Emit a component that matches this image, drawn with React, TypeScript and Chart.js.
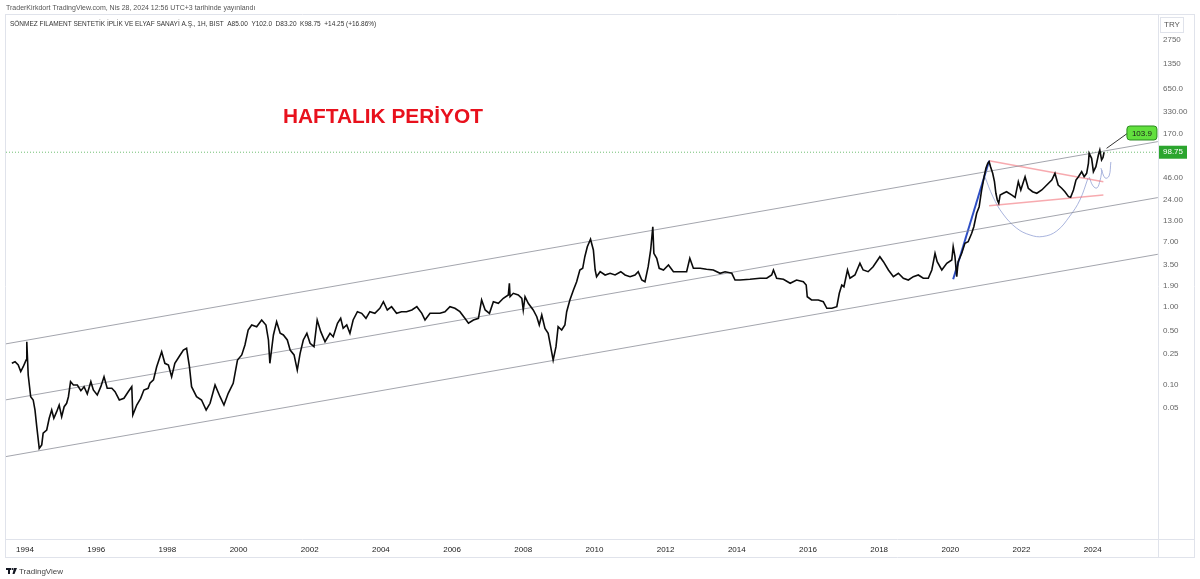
import React, { useEffect, useRef } from "react";
import { Chart, registerables } from "chart.js";
Chart.register(...registerables);

// ---------- DATA ----------
const weekYears: number[] = [
  1993.63, 1993.72, 1993.81, 1993.88, 1993.95, 1994.03, 1994.05, 1994.09, 1994.16, 1994.23,
  1994.28, 1994.33, 1994.40, 1994.47, 1994.51, 1994.61, 1994.68, 1994.75, 1994.81, 1994.89,
  1994.96, 1995.03, 1995.10, 1995.17, 1995.22, 1995.28, 1995.36, 1995.47, 1995.57, 1995.66,
  1995.75, 1995.85, 1995.92, 1996.03, 1996.13, 1996.22, 1996.31, 1996.44, 1996.53, 1996.65,
  1996.78, 1996.90, 1997.00, 1997.03, 1997.14, 1997.25, 1997.34, 1997.46,
  1997.51, 1997.61, 1997.70, 1997.84, 1997.93, 1998.03, 1998.12, 1998.21, 1998.36, 1998.45,
  1998.54, 1998.62, 1998.68, 1998.82, 1998.96, 1999.09, 1999.20, 1999.34, 1999.48, 1999.59,
  1999.71, 1999.85, 1999.97, 2000.09, 2000.18, 2000.27, 2000.37, 2000.51, 2000.65, 2000.77,
  2000.84, 2000.88, 2000.98, 2001.07, 2001.17, 2001.26, 2001.37, 2001.45, 2001.56, 2001.65,
  2001.73, 2001.82, 2001.92, 2002.01, 2002.12, 2002.21, 2002.31, 2002.43, 2002.57, 2002.66,
  2002.78, 2002.87, 2002.94, 2003.04, 2003.13, 2003.22, 2003.34, 2003.46, 2003.58, 2003.69,
  2003.83, 2003.97, 2004.07, 2004.18, 2004.30, 2004.44, 2004.58, 2004.72, 2004.87, 2005.01,
  2005.15, 2005.24, 2005.38, 2005.52, 2005.66, 2005.80, 2005.94, 2006.08, 2006.22, 2006.36,
  2006.46, 2006.60, 2006.74, 2006.83, 2006.93, 2007.05, 2007.16, 2007.30, 2007.44, 2007.58,
  2007.61, 2007.63,
  2007.72, 2007.86, 2007.96, 2008.00, 2008.05, 2008.14, 2008.28, 2008.38, 2008.45, 2008.52,
  2008.61, 2008.70, 2008.77, 2008.84, 2008.92, 2008.98, 2009.08, 2009.17, 2009.22, 2009.31,
  2009.41, 2009.50, 2009.59, 2009.67, 2009.73, 2009.80, 2009.89, 2009.97, 2010.02, 2010.06,
  2010.16, 2010.30, 2010.44, 2010.58, 2010.74, 2010.86, 2011.00, 2011.14, 2011.23, 2011.33,
  2011.42, 2011.51, 2011.58, 2011.64, 2011.67, 2011.75, 2011.82, 2011.94, 2012.08, 2012.22,
  2012.40, 2012.59, 2012.68, 2012.78, 2012.97,
  2013.15, 2013.34, 2013.53, 2013.67, 2013.86, 2013.95, 2014.09, 2014.37, 2014.65, 2014.84,
  2014.98, 2015.03, 2015.12, 2015.31, 2015.50, 2015.68, 2015.87, 2015.95, 2015.98, 2016.10,
  2016.29, 2016.43, 2016.53, 2016.67, 2016.81, 2016.88, 2016.95, 2017.01, 2017.11, 2017.18,
  2017.32, 2017.46, 2017.55, 2017.69, 2017.83, 2018.02, 2018.12, 2018.26, 2018.40, 2018.54,
  2018.68, 2018.82, 2018.96, 2019.10, 2019.24, 2019.38, 2019.48, 2019.57, 2019.63, 2019.76,
  2019.90, 2020.04, 2020.08, 2020.13, 2020.18,
  2020.22, 2020.32, 2020.41, 2020.50, 2020.60, 2020.66, 2020.74, 2020.81, 2020.88, 2020.95,
  2021.00, 2021.05, 2021.09, 2021.13, 2021.19, 2021.24, 2021.28, 2021.32, 2021.36, 2021.40,
  2021.49, 2021.58, 2021.72, 2021.82, 2021.91, 2021.98, 2022.10, 2022.19, 2022.31, 2022.43,
  2022.57, 2022.71, 2022.85, 2022.94, 2023.03, 2023.13, 2023.22, 2023.32, 2023.38, 2023.46,
  2023.53, 2023.60, 2023.69, 2023.76, 2023.83, 2023.88, 2023.90, 2023.97, 2024.02, 2024.09,
  2024.16, 2024.20, 2024.25, 2024.29, 2024.32,
];

const weekCloses: number[] = [
  0.188, 0.197, 0.179, 0.147, 0.170, 0.207, 0.357, 0.133, 0.0698, 0.0634,
  0.0471, 0.0287, 0.0151, 0.0167, 0.0236, 0.0260, 0.0368, 0.0471, 0.0368, 0.0448,
  0.0546, 0.0386, 0.0519, 0.0574, 0.0698, 0.109, 0.0989, 0.0989, 0.0834, 0.0940,
  0.0757, 0.109, 0.0852, 0.0735, 0.0940, 0.126, 0.0896, 0.0896, 0.0810, 0.0634,
  0.0666, 0.0810, 0.0940, 0.0406, 0.0546, 0.0666, 0.0852, 0.0896,
  0.104, 0.115, 0.170, 0.265, 0.188, 0.179, 0.126, 0.188, 0.241, 0.279,
  0.294, 0.170, 0.0940, 0.0698, 0.0634, 0.0471, 0.0574, 0.0989, 0.0698, 0.0546,
  0.0773, 0.104, 0.207, 0.241, 0.324, 0.505, 0.586, 0.557, 0.680, 0.586,
  0.376, 0.188, 0.436, 0.647, 0.458, 0.436, 0.376, 0.279, 0.241, 0.154,
  0.253, 0.376, 0.458, 0.341, 0.308, 0.680, 0.481, 0.357, 0.458, 0.414,
  0.617, 0.715, 0.531, 0.586, 0.458, 0.680, 0.870, 0.829, 0.715, 0.870,
  0.829, 0.962, 1.170, 0.915, 1.01, 0.829, 0.870, 0.870, 0.915, 1.01,
  0.829, 0.680, 0.829, 0.829, 0.829, 0.870, 1.01, 0.962, 0.870, 0.715,
  0.617, 0.680, 0.715, 1.231, 0.915, 0.829, 1.170, 1.116, 1.295, 1.427,
  2.021, 1.357,
  1.501, 1.427, 1.295, 0.915, 1.357, 1.116, 0.915, 0.750, 0.586, 0.789,
  0.531, 0.458, 0.308, 0.207, 0.308, 0.557, 0.505, 0.586, 0.870, 1.231,
  1.656, 2.118, 3.00, 3.153, 4.448, 5.985, 7.455, 5.43, 3.00, 2.458,
  2.85, 2.585, 2.719, 2.585, 2.85, 2.585, 2.458, 2.585, 2.85, 2.228,
  2.118, 3.306, 5.43, 10.83, 4.92, 4.243, 3.153, 3.00, 3.477, 2.85,
  2.85, 2.85, 4.243, 3.153, 3.153,
  3.061, 3.00, 2.719, 2.85, 2.719, 2.228, 2.228, 2.275, 2.344, 2.344,
  2.585, 3.00, 2.344, 2.275, 2.021, 2.228, 2.118, 1.920, 1.357, 1.231,
  1.231, 1.170, 0.962, 0.962, 1.01, 1.501, 1.920, 1.826, 3.00, 2.344,
  2.585, 3.657, 3.00, 2.85, 3.306, 4.448, 3.836, 3.00, 2.458, 2.719,
  2.344, 2.228, 2.458, 2.585, 2.344, 2.344, 3.00, 4.92, 3.836, 3.00,
  3.657, 4.034, 5.985, 4.448, 2.458,
  3.836, 4.92, 6.62, 6.94, 8.91, 10.83, 16.13, 19.61, 32.2, 47.8,
  61.3, 71.1, 74.6, 64.3, 52.8, 41.2, 29.2, 23.9, 21.7, 27.8,
  29.2, 30.6, 27.8, 25.9, 41.2, 32.2, 47.8, 33.9, 30.6, 29.2,
  32.2, 37.3, 43.3, 52.8, 37.3, 33.9, 30.6, 26.4, 25.9, 32.2,
  43.3, 47.8, 55.4, 47.8, 52.8, 71.1, 95.7, 82.5, 55.4, 64.3,
  90.9, 105.5, 78.4, 84.5, 98.75,
];

// Channel lines (start / end)
const channelYears = [1993.3, 2025.83];
const upperChannel = [0.325, 135.3];
const middleChannel = [0.0617, 25.7];
const lowerChannel = [0.01146, 4.78];

// Blue trend line of the 2020 rally
const riseYears = [2020.08, 2021.09];
const riseValues = [2.28, 76.8];

// Red triangle lines
const triUpperYears = [2021.09, 2024.3];
const triUpperValues = [76.8, 41.2];
const triLowerYears = [2021.09, 2024.3];
const triLowerValues = [20.2, 27.8];

// Cup arcs
const cupYears = [2020.97, 2021.2, 2021.48, 2021.86, 2022.24, 2022.6, 2022.99, 2023.36, 2023.64, 2023.87];
const cupValues = [47.8, 26.2, 15.8, 10.4, 8.47, 8.1, 9.54, 14.9, 23.9, 45.9];
const cup2Years = [2023.9, 2024.01, 2024.12, 2024.21, 2024.26];
const cup2Values = [47.3, 36.3, 34.2, 43.3, 58.3];
const cup3Years = [2024.23, 2024.35, 2024.46, 2024.51];
const cup3Values = [61.8, 45.9, 48.8, 73.9];

// Callout to target label
const calloutYears = [2024.39, 2024.99];
const calloutValues = [110.9, 174.7];
const calloutLabel = "103.9";

const lastPrice = 98.75;
const lastPriceLabel = "98.75";

const xMin = 1993.466;
const xMax = 2025.835;
const yMin = 0.001024;
const yMax = 5793;

const xTickYears = [1994, 1996, 1998, 2000, 2002, 2004, 2006, 2008, 2010, 2012, 2014, 2016, 2018, 2020, 2022, 2024];
const yTickValues = [2750, 1350, 650, 330, 170, 46, 24, 13, 7, 3.5, 1.9, 1, 0.5, 0.25, 0.1, 0.05];
const yTickLabels = ["2750", "1350", "650.0", "330.00", "170.0", "46.00", "24.00", "13.00", "7.00", "3.50", "1.90", "1.00", "0.50", "0.25", "0.10", "0.05"];

const publishText = "TraderKirkdort TradingView.com, Nis 28, 2024 12:56 UTC+3 tarihinde yayınlandı";
const headerText = "SÖNMEZ FILAMENT SENTETİK İPLİK VE ELYAF SANAYİ A.Ş., 1H, BIST  A85.00  Y102.0  D83.20  K98.75  +14.25 (+16.86%)";
const titleText = "HAFTALIK PERİYOT";
const currencyText = "TRY";

// ---------- HELPERS ----------
const pairs = (xs: number[], ys: number[]) => xs.map((x, i) => ({ x, y: ys[i] }));
const FONT = "'Liberation Sans', 'Open Sans', sans-serif";

function fitText(ctx: CanvasRenderingContext2D, text: string, x: number, y: number, width: number, weight: string, color: string) {
  ctx.font = `${weight} 100px ${FONT}`;
  const w = ctx.measureText(text).width;
  const size = (100 * width) / w;
  ctx.font = `${weight} ${size}px ${FONT}`;
  ctx.fillStyle = color;
  ctx.fillText(text, x, y);
}

function roundRect(ctx: CanvasRenderingContext2D, x: number, y: number, w: number, h: number, r: number) {
  ctx.beginPath();
  ctx.moveTo(x + r, y);
  ctx.lineTo(x + w - r, y);
  ctx.quadraticCurveTo(x + w, y, x + w, y + r);
  ctx.lineTo(x + w, y + h - r);
  ctx.quadraticCurveTo(x + w, y + h, x + w - r, y + h);
  ctx.lineTo(x + r, y + h);
  ctx.quadraticCurveTo(x, y + h, x, y + h - r);
  ctx.lineTo(x, y + r);
  ctx.quadraticCurveTo(x, y, x + r, y);
  ctx.closePath();
}

const overlayPlugin = {
  id: "overlay",
  afterDraw(chart: any) {
    const ctx: CanvasRenderingContext2D = chart.ctx;
    const { left, right, top, bottom } = chart.chartArea;
    const xs = chart.scales.x;
    const ys = chart.scales.y;
    ctx.save();

    // frame lines
    ctx.strokeStyle = "#e0e3eb";
    ctx.lineWidth = 1;
    ctx.beginPath();
    ctx.moveTo(left - 1, top - 0.5); ctx.lineTo(1195, top - 0.5);
    ctx.moveTo(left - 0.5, top); ctx.lineTo(left - 0.5, 558);
    ctx.moveTo(1194.5, top); ctx.lineTo(1194.5, 558);
    ctx.moveTo(left - 1, bottom + 0.5); ctx.lineTo(1195, bottom + 0.5);
    ctx.moveTo(left - 1, 557.5); ctx.lineTo(1195, 557.5);
    ctx.moveTo(right + 0.5, top); ctx.lineTo(right + 0.5, 558);
    ctx.stroke();

    // texts
    ctx.textBaseline = "middle";
    ctx.textAlign = "left";
    fitText(ctx, publishText, 6, 8, 250, "normal", "#555");
    fitText(ctx, headerText, 10, 24, 367, "normal", "#333");
    ctx.textBaseline = "alphabetic";
    fitText(ctx, titleText, 283, 123, 200, "bold", "#e8111d");

    // currency box
    ctx.strokeStyle = "#e0e3eb";
    ctx.strokeRect(1160.5, 17.5, 23, 15);
    ctx.fillStyle = "#555";
    ctx.font = `8px ${FONT}`;
    ctx.textAlign = "center";
    ctx.textBaseline = "middle";
    ctx.fillText(currencyText, 1172, 25);

    // last price label
    const py = ys.getPixelForValue(lastPrice);
    ctx.fillStyle = "#2ba52e";
    ctx.fillRect(right + 1, py - 6.5, 28, 13);
    ctx.fillStyle = "#fff";
    ctx.font = `8px ${FONT}`;
    ctx.fillText(lastPriceLabel, right + 15, py);

    // callout box
    const ex = xs.getPixelForValue(calloutYears[1]);
    const ey = ys.getPixelForValue(calloutValues[1]);
    roundRect(ctx, ex - 1, ey - 7, 30, 14, 3);
    ctx.fillStyle = "#62e03e";
    ctx.fill();
    ctx.strokeStyle = "#2a8a20";
    ctx.lineWidth = 1;
    ctx.stroke();
    ctx.fillStyle = "#1a1a1a";
    ctx.font = `8px ${FONT}`;
    ctx.fillText(calloutLabel, ex + 14, ey + 0.5);

    // TradingView logo
    ctx.fillStyle = "#131722";
    ctx.fillRect(6, 568, 5, 2);
    ctx.fillRect(8, 568, 2, 6);
    ctx.beginPath();
    ctx.arc(12.5, 569, 1.1, 0, Math.PI * 2);
    ctx.fill();
    ctx.beginPath();
    ctx.moveTo(14, 568); ctx.lineTo(17, 568); ctx.lineTo(14.5, 574); ctx.lineTo(12.5, 574);
    ctx.closePath();
    ctx.fill();
    ctx.textAlign = "left";
    ctx.fillStyle = "#444";
    ctx.font = `8px ${FONT}`;
    ctx.fillText("TradingView", 19, 571.5);

    ctx.restore();
  },
};

export default function App() {
  const canvasRef = useRef<HTMLCanvasElement>(null);

  useEffect(() => {
    if (!canvasRef.current) return;
    const lineDs = (data: any[], color: string, width: number, extra: any = {}) => ({
      type: "line",
      data,
      borderColor: color,
      borderWidth: width,
      pointRadius: 0,
      tension: 0,
      fill: false,
      order: 2,
      ...extra,
    });

    const chart = new Chart(canvasRef.current, {
      type: "line",
      data: {
        datasets: [
          lineDs(pairs(channelYears, upperChannel), "rgba(140,143,152,0.8)", 1),
          lineDs(pairs(channelYears, middleChannel), "rgba(140,143,152,0.8)", 1),
          lineDs(pairs(channelYears, lowerChannel), "rgba(140,143,152,0.8)", 1),
          lineDs([{ x: xMin, y: lastPrice }, { x: xMax, y: lastPrice }], "rgba(76,175,80,0.8)", 1, { borderDash: [1, 2] }),
          lineDs(pairs(triUpperYears, triUpperValues), "rgba(240,100,110,0.55)", 1.5),
          lineDs(pairs(triLowerYears, triLowerValues), "rgba(240,100,110,0.55)", 1.5),
          lineDs(pairs(cupYears, cupValues), "rgba(140,155,210,0.75)", 1, { tension: 0.4 }),
          lineDs(pairs(cup2Years, cup2Values), "rgba(140,155,210,0.75)", 1, { tension: 0.4 }),
          lineDs(pairs(cup3Years, cup3Values), "rgba(140,155,210,0.75)", 1, { tension: 0.4 }),
          lineDs(pairs(riseYears, riseValues), "#2f4fc4", 2),
          lineDs(pairs(calloutYears, calloutValues), "#333", 1),
          lineDs(pairs(weekYears, weekCloses), "#0b0b0b", 1.6, { order: 0 }),
        ] as any,
      },
      options: {
        animation: false,
        responsive: false,
        devicePixelRatio: 1,
        parsing: true,
        layout: { padding: { left: 6, top: 15, right: 6, bottom: 22 } },
        plugins: { legend: { display: false }, tooltip: { enabled: false }, title: { display: false } },
        scales: {
          x: {
            type: "linear",
            position: "bottom",
            min: xMin,
            max: xMax,
            grid: { display: false, drawTicks: false },
            border: { display: false },
            ticks: {
              autoSkip: false,
              maxRotation: 0,
              padding: 6,
              color: "#222",
              font: { size: 8, family: FONT },
              callback: (v: any) => String(v),
            },
            afterBuildTicks: (s: any) => {
              s.ticks = xTickYears.map((v) => ({ value: v }));
            },
            afterFit: (s: any) => {
              s.height = 18;
            },
          },
          y: {
            type: "logarithmic",
            position: "right",
            min: yMin,
            max: yMax,
            grid: { display: false, drawTicks: false },
            border: { display: false },
            ticks: {
              autoSkip: false,
              padding: 5,
              color: "#666",
              font: { size: 8, family: FONT },
              callback: (v: any) => {
                const i = yTickValues.indexOf(Number(v));
                return i >= 0 ? yTickLabels[i] : "";
              },
            },
            afterBuildTicks: (s: any) => {
              s.ticks = yTickValues.map((v) => ({ value: v }));
            },
            afterFit: (s: any) => {
              s.width = 36;
            },
          },
        },
      } as any,
      plugins: [overlayPlugin],
    });
    return () => chart.destroy();
  }, []);

  return (
    <div style={{ position: "fixed", left: 0, top: 0, width: 1200, height: 579, background: "#fff" }}>
      <canvas ref={canvasRef} width={1200} height={579} style={{ width: 1200, height: 579, display: "block" }} />
    </div>
  );
}
